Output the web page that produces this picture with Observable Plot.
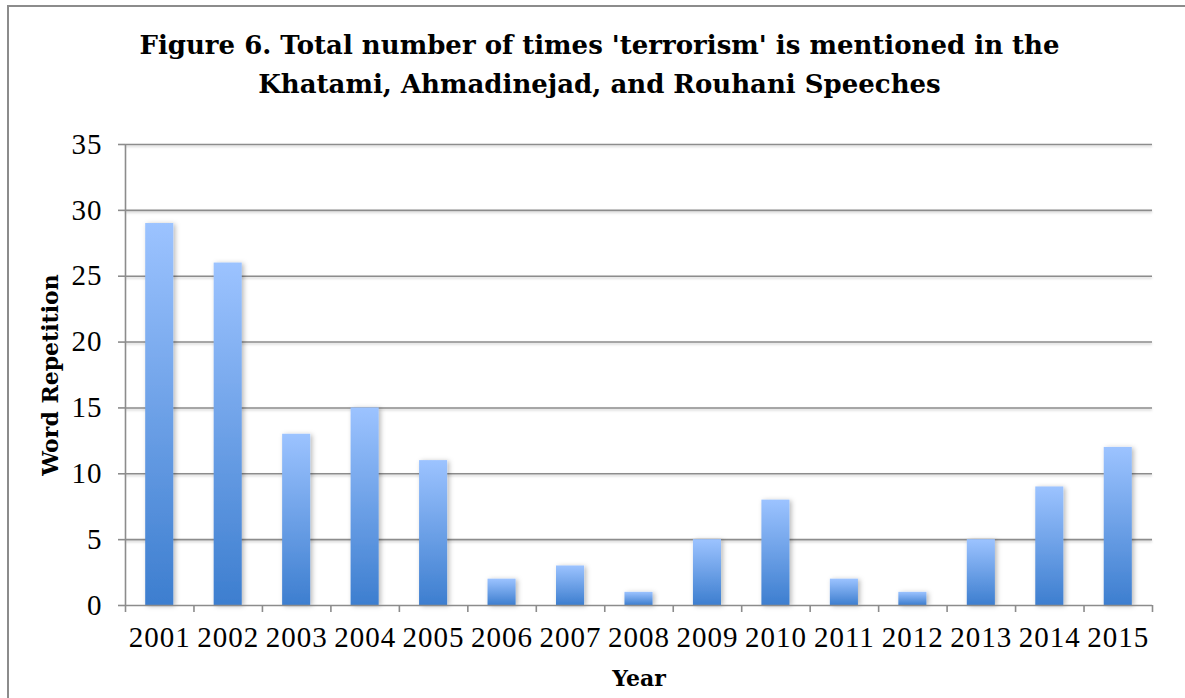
<!DOCTYPE html>
<html>
<head>
<meta charset="utf-8">
<script src="https://cdn.jsdelivr.net/npm/d3@7"></script>
<script src="https://cdn.jsdelivr.net/npm/@observablehq/plot@0.6"></script>
<style>
  html, body { margin: 0; padding: 0; background: #fff; width: 1185px; height: 698px; overflow: hidden; }
  #frame { position: absolute; left: 7px; top: 5px; width: 1400px; height: 900px; border-left: 2px solid #8c8c8c; border-top: 2px solid #8c8c8c; }
  #title { position: absolute; left: 7px; top: 26px; width: 1185px; text-align: center; font-family: "DejaVu Serif", serif; font-weight: bold; font-size: 26px; line-height: 39px; color: #000; }
  #chart { position: absolute; left: 0; top: 110px; }
</style>
</head>
<body>
<div id="frame"></div>
<div id="title">Figure 6. Total number of times 'terrorism' is mentioned in the<br>Khatami, Ahmadinejad, and Rouhani Speeches</div>
<div id="chart"></div>
<script>
const years = [2001, 2002, 2003, 2004, 2005, 2006, 2007, 2008, 2009, 2010, 2011, 2012, 2013, 2014, 2015];
const counts = [29, 26, 13, 15, 11, 2, 3, 1, 5, 8, 2, 1, 5, 9, 12];
const yTicks = [0, 5, 10, 15, 20, 25, 30, 35];

const data = years.map((year, i) => ({year, count: counts[i]}));
const boundaries = years.map(y => y - 0.5).concat([years[years.length - 1] + 0.5]);
const halfBar = 0.205;
const axisGray = "#8c8c8c";

const chart = Plot.plot({
  width: 1185,
  height: 588,
  marginLeft: 125,
  marginRight: 33,
  marginTop: 34,
  marginBottom: 93,
  style: {fontFamily: "'Liberation Serif', serif", fontSize: "29px", color: "#000", background: "none"},
  x: {type: "linear", domain: [boundaries[0], boundaries[boundaries.length - 1]]},
  y: {domain: [0, 35]},
  marks: [
    Plot.gridY(yTicks.filter(v => v > 0), {stroke: axisGray, strokeOpacity: 1, strokeWidth: 1.6}),
    Plot.rectY(data, {x1: d => d.year - halfBar, x2: d => d.year + halfBar, y: "count", fill: "url(#barGrad)"}),
    Plot.ruleY([0], {stroke: axisGray, strokeWidth: 1.6}),
    Plot.ruleX([boundaries[0]], {stroke: axisGray, strokeWidth: 1.6}),
    Plot.axisY({ticks: yTicks, tickSize: 7, tickPadding: 16, stroke: axisGray, strokeWidth: 1.6, fill: "#000",
      label: "Word Repetition", labelAnchor: "center", labelOffset: 83}),
    Plot.axisX({ticks: boundaries, tickSize: 7, tickFormat: () => "", stroke: axisGray, strokeWidth: 1.6, label: null}),
    Plot.axisX({ticks: years, tickSize: 0, tickPadding: 21, tickFormat: d => String(d), fill: "#000",
      label: "Year", labelAnchor: "center", labelOffset: 80})
  ]
});

document.getElementById("chart").appendChild(chart);

const svg = d3.select(chart);
const defs = svg.insert("defs", ":first-child");
const grad = defs.append("linearGradient").attr("id", "barGrad").attr("x1", 0).attr("y1", 0).attr("x2", 0).attr("y2", 1);
grad.append("stop").attr("offset", "0%").attr("stop-color", "#9cc3ff");
grad.append("stop").attr("offset", "100%").attr("stop-color", "#3d7ecf");
const f = defs.append("filter").attr("id", "shadow").attr("x", "-30%").attr("y", "-10%").attr("width", "160%").attr("height", "130%");
f.append("feDropShadow").attr("dx", 2).attr("dy", 1).attr("stdDeviation", 2.5).attr("flood-color", "#000").attr("flood-opacity", 0.28);
const g = defs.append("filter").attr("id", "lineShadow").attr("x", "-5%").attr("y", "-200%").attr("width", "110%").attr("height", "500%");
g.append("feDropShadow").attr("dx", 0).attr("dy", 1.5).attr("stdDeviation", 1).attr("flood-color", "#000").attr("flood-opacity", 0.2);

svg.selectAll("g[aria-label='rect']").attr("filter", "url(#shadow)");
svg.selectAll("g[aria-label='y-grid']").attr("filter", "url(#lineShadow)");
svg.selectAll("g[aria-label='x-axis tick label'] text, g[aria-label='y-axis tick label'] text")
  .style("letter-spacing", "1px");
svg.selectAll("g[aria-label='x-axis label'] text, g[aria-label='y-axis label'] text")
  .each(function() {
    const t = d3.select(this);
    const tspan = t.select("tspan");
    const target = tspan.empty() ? t : tspan;
    target.text(target.text().replace(/[\u2190-\u2193]/g, "").trim());
  })
  .style("font-weight", "bold").style("font-size", "22px").style("font-family", "'DejaVu Serif', serif");
</script>
</body>
</html>
